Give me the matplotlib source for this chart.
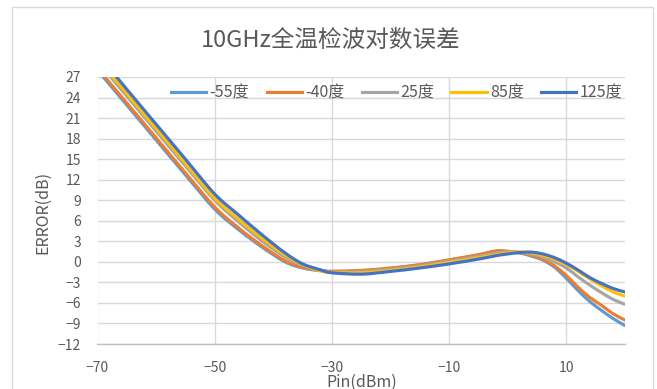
import matplotlib
matplotlib.use("Agg")
import matplotlib.pyplot as plt
import numpy as np
from matplotlib.path import Path
from matplotlib.patches import PathPatch, Rectangle
from matplotlib.lines import Line2D

plt.rcParams['font.family'] = ['Noto Sans CJK SC', 'DejaVu Sans']

# Input power sweep (dBm)
pin = [-70, -65, -60, -55, -50, -46, -42, -38, -35, -32, -30, -25, -20, -15,
       -10, -5, -2, 0, 2, 4, 6, 8, 10, 12, 14, 16, 18, 20]

# Log-conformance error (dB) per temperature
err_m55 = [28.0, 22.9, 17.8, 12.7, 7.7, 4.75, 2.2, 0.0, -0.9, -1.3, -1.4, -1.3,
           -0.95, -0.45, 0.25, 1.0, 1.55, 1.5, 1.3, 0.85, 0.25, -0.8, -2.4,
           -4.2, -5.8, -7.1, -8.3, -9.3]
err_m40 = [28.3, 23.2, 18.1, 13.0, 8.0, 5.0, 2.4, 0.15, -0.8, -1.25, -1.38, -1.25,
           -0.9, -0.4, 0.3, 1.05, 1.6, 1.55, 1.35, 0.95, 0.35, -0.6, -2.0,
           -3.7, -5.2, -6.35, -7.6, -8.5]
err_25 = [29.3, 24.2, 19.1, 14.0, 9.0, 5.9, 3.1, 0.7, -0.5, -1.25, -1.5, -1.45,
          -1.1, -0.6, 0.1, 0.8, 1.25, 1.45, 1.4, 1.15, 0.7, 0.0, -0.9,
          -2.2, -3.4, -4.5, -5.5, -6.2]
err_85 = [29.7, 24.6, 19.5, 14.4, 9.3, 6.3, 3.5, 1.0, -0.4, -1.3, -1.55, -1.6,
          -1.25, -0.75, -0.1, 0.6, 1.05, 1.3, 1.45, 1.3, 0.95, 0.35, -0.4,
          -1.4, -2.5, -3.5, -4.4, -5.0]
err_125 = [30.4, 25.2, 20.1, 15.0, 9.9, 6.9, 4.0, 1.3, -0.3, -1.15, -1.6, -1.8,
           -1.4, -0.9, -0.3, 0.4, 0.9, 1.15, 1.35, 1.42, 1.15, 0.6, -0.2,
           -1.2, -2.3, -3.15, -3.9, -4.4]

labels = ['-55度', '-40度', '25度', '85度', '125度']
colors = ['#5B9BD5', '#ED7D31', '#A5A5A5', '#FFC000', '#4472C4']
series = [err_m55, err_m40, err_25, err_85, err_125]

x_ticks = [-70, -50, -30, -10, 10]
y_ticks = list(range(-12, 28, 3))

TXT = '#595959'
GRID = '#D9D9D9'


def smooth_path(xs, ys):
    """Catmull-Rom style cubic Bezier path through the points (spreadsheet 'smoothed line')."""
    p = np.column_stack([xs, ys]).astype(float)
    n = len(p)
    verts = [p[0]]
    codes = [Path.MOVETO]
    for i in range(n - 1):
        p0 = p[i - 1] if i > 0 else p[i]
        p1 = p[i]
        p2 = p[i + 1]
        p3 = p[i + 2] if i + 2 < n else p[i + 1]
        c1 = p1 + (p2 - p0) / 6.0
        c2 = p2 - (p3 - p1) / 6.0
        verts += [c1, c2, p2]
        codes += [Path.CURVE4] * 3
    return Path(verts, codes)


fig = plt.figure(figsize=(6.57, 3.89), dpi=100)
fig.patch.set_facecolor('white')

# chart frame
fig.patches.append(Rectangle((12 / 657, -0.05), (653 - 12) / 657, 1 - 7 / 389 + 0.05,
                             transform=fig.transFigure, fill=False,
                             edgecolor=GRID, lw=1.0))

ax = fig.add_axes([97.5 / 657, 1 - 344 / 389, (625 - 97.5) / 657, (344 - 77) / 389])
ax.set_xlim(-70, 20)
ax.set_ylim(-12, 27)
ax.set_xticks(x_ticks)
ax.set_yticks(y_ticks)
ax.grid(True, color=GRID, lw=1.0)
ax.set_axisbelow(True)
for s in ['top', 'right', 'left']:
    ax.spines[s].set_visible(False)
ax.spines['bottom'].set_color('#BFBFBF')
ax.spines['bottom'].set_linewidth(1.0)
ax.tick_params(length=0, labelsize=10, labelcolor=TXT)
ax.tick_params(axis='x', pad=12)
ax.tick_params(axis='y', pad=12)

handles = []
for ys, c, lab in zip(series, colors, labels):
    patch = PathPatch(smooth_path(pin, ys), fill=False, edgecolor=c, lw=2.25,
                      capstyle='round', joinstyle='round')
    ax.add_patch(patch)
    handles.append(Line2D([0], [0], color=c, lw=2.25, label=lab))

leg = ax.legend(handles=handles, loc='center', bbox_to_anchor=(0.567, 0.940),
                ncol=5, frameon=False, fontsize=11.5, labelcolor=TXT,
                handlelength=2.2, handletextpad=0.2, columnspacing=1.1,
                borderaxespad=0.0, borderpad=0.0)

fig.text(331 / 657, 1 - 40 / 389, '10GHz全温检波对数误差', ha='center', va='center',
         fontsize=17, color=TXT)
fig.text(43 / 657, 1 - 212 / 389, 'ERROR(dB)', rotation=90, ha='center', va='center',
         fontsize=11.5, color=TXT)
fig.text(362 / 657, 1 - 382 / 389, 'Pin(dBm)', ha='center', va='center',
         fontsize=11.5, color=TXT)

fig.savefig('out.png', dpi=100)
